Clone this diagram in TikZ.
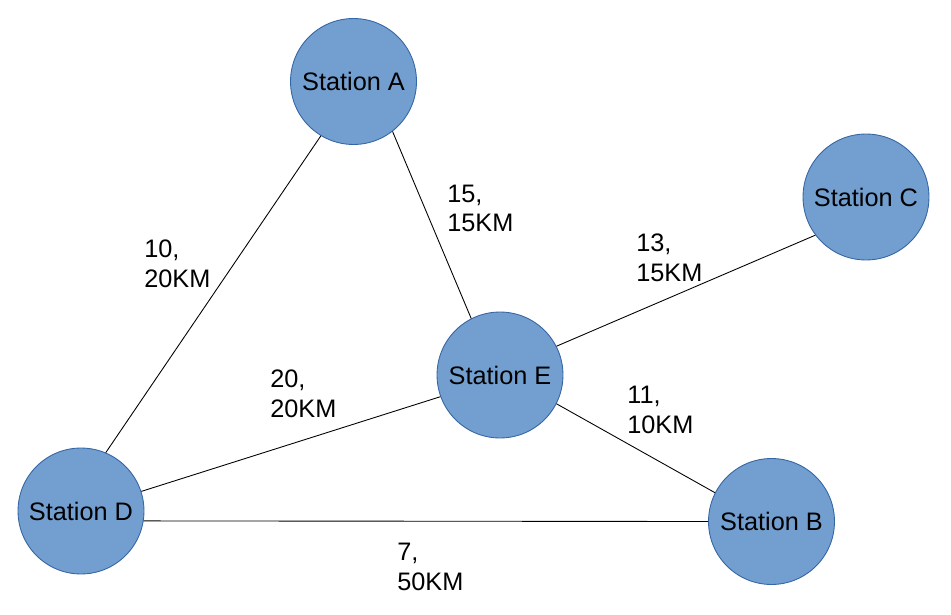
\documentclass[tikz,border=0pt]{standalone}
\usepackage{fontspec}
\setmainfont{Liberation Sans}
\usepackage{xcolor}
\usetikzlibrary{positioning}
\definecolor{stfill}{HTML}{729FCF}
\definecolor{stline}{HTML}{3465A4}

\begin{document}
\begin{tikzpicture}[x=0.02cm,y=-0.02cm,
  every node/.style={font=\fontsize{14.4}{17}\selectfont},
  station/.style={circle,fill=stfill,draw=stline,line width=0.5pt,minimum size=2.52cm,inner sep=0pt},
  link/.style={line width=0.5pt,black},
  dist/.style={align=left,anchor=base west,inner sep=0pt}]
  \useasboundingbox (0,0) rectangle (951,615);
  % stations
  \node[station] (A) at (353.5,81.5) {Station A};
  \node[station] (C) at (866,197) {Station C};
  \node[station] (E) at (500,375) {Station E};
  \node[station] (D) at (81,511) {Station D};
  \node[station] (B) at (771.5,521.5) {Station B};
  % links
  \draw[link] (D.67) -- (A.239);
  \draw[link] (A.308) -- (E.117);
  \draw[link] (E.27) -- (C.217);
  \draw[link] (D.18) -- (E.200);
  \draw[link] (E.333) -- (B.153);
  \draw[link] (D.351) -- (B.west);
  % weights (anchored at the last line)
  \node[dist] (dDA) at (144,287) {10,\\20KM};
  \node[dist] (dAE) at (447,232) {15,\\15KM};
  \node[dist] (dEC) at (636,281) {13,\\15KM};
  \node[dist] (dDE) at (270,417) {20,\\20KM};
  \node[dist] (dEB) at (627,433) {11,\\10KM};
  \node[dist] (dDB) at (397,590) {7,\\50KM};
\end{tikzpicture}
\end{document}
